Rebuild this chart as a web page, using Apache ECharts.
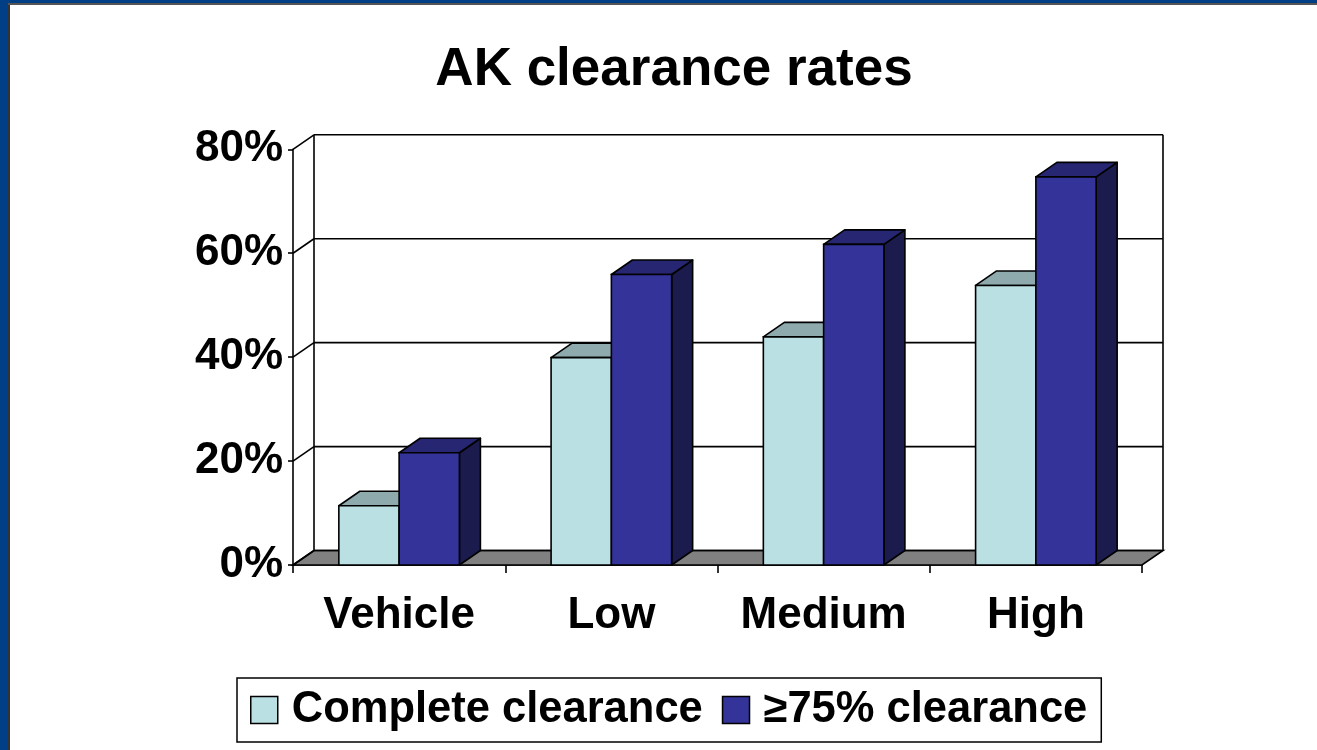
<!DOCTYPE html>
<html>
<head>
<meta charset="utf-8">
<script src="https://cdn.jsdelivr.net/npm/echarts@6/dist/echarts.min.js"></script>
<style>
html,body{margin:0;padding:0;background:#fff;}
#chart{width:1317px;height:750px;}
</style>
</head>
<body>
<div id="chart"></div>
<script>
// ---- data ----
var categories = ['Vehicle', 'Low', 'Medium', 'High'];
var completeClearance = [11.4, 39.9, 43.9, 53.8];
var clearance75 = [21.6, 55.9, 61.7, 74.7];
var yTicks = [0, 20, 40, 60, 80];
var seriesNames = ['Complete clearance', '\u226575% clearance'];
var chartTitle = 'AK clearance rates';

// ---- style constants ----
var DX = 21, DY = -14.5;
var FONT = '"Liberation Sans", Arial, sans-serif';
var LINE = '#000';
var LW = 1.6;
var faces = [
  {front: '#bbe0e3', top: '#8eaaad', side: '#6f8a8c'},
  {front: '#333399', top: '#262673', side: '#1b1b4d'}
];

var chart = echarts.init(document.getElementById('chart'), null, {renderer: 'canvas'});

function wallsRender(params, api) {
  var cs = params.coordSys;
  var x0 = cs.x, x1 = cs.x + cs.width;
  var y0 = api.coord([0, yTicks[0]])[1];
  var yTop = api.coord([0, yTicks[yTicks.length - 1]])[1];
  var children = [];
  children.push({
    type: 'polygon',
    shape: {points: [[x0, y0], [x1, y0], [x1 + DX, y0 + DY], [x0 + DX, y0 + DY]]},
    style: {fill: '#808080', stroke: LINE, lineWidth: LW}
  });
  yTicks.forEach(function (v) {
    var y = api.coord([0, v])[1];
    children.push({type: 'line', shape: {x1: x0 + DX, y1: y + DY, x2: x1 + DX, y2: y + DY},
      style: {stroke: LINE, lineWidth: LW}});
    children.push({type: 'line', shape: {x1: x0, y1: y, x2: x0 + DX, y2: y + DY},
      style: {stroke: LINE, lineWidth: LW}});
  });
  children.push({type: 'line', shape: {x1: x0 + DX, y1: yTop + DY, x2: x0 + DX, y2: y0 + DY},
    style: {stroke: LINE, lineWidth: LW}});
  children.push({type: 'line', shape: {x1: x1 + DX, y1: yTop + DY, x2: x1 + DX, y2: y0 + DY},
    style: {stroke: LINE, lineWidth: LW}});
  return {type: 'group', children: children};
}

function makeBarRender(sIdx) {
  return function (params, api) {
    var idx = api.value(0);
    var val = api.value(1);
    var top = api.coord([idx, val]);
    var base = api.coord([idx, 0]);
    var band = api.size([1, 0])[0];
    var bw = band * 0.284;
    var cx = top[0];
    var left = sIdx === 0 ? cx - bw : cx;
    var right = left + bw;
    var yt = top[1], yb = base[1];
    var f = faces[sIdx];
    return {
      type: 'group',
      children: [
        {type: 'polygon', shape: {points: [[right, yb], [right + DX, yb + DY], [right + DX, yt + DY], [right, yt]]},
          style: {fill: f.side, stroke: LINE, lineWidth: LW, lineJoin: 'round'}},
        {type: 'polygon', shape: {points: [[left, yt], [right, yt], [right + DX, yt + DY], [left + DX, yt + DY]]},
          style: {fill: f.top, stroke: LINE, lineWidth: LW, lineJoin: 'round'}},
        {type: 'rect', shape: {x: left, y: yt, width: bw, height: yb - yt},
          style: {fill: f.front, stroke: LINE, lineWidth: LW}}
      ]
    };
  };
}

function toData(arr) {
  return arr.map(function (v, i) { return [i, v]; });
}

var option = {
  backgroundColor: '#fff',
  animation: false,
  legend: {
    left: 237,
    top: 678,
    orient: 'horizontal',
    backgroundColor: '#fff',
    borderColor: '#000',
    borderWidth: 1.5,
    borderRadius: 0,
    padding: [8, 14, 8, 13],
    itemWidth: 27,
    itemHeight: 27,
    itemGap: 19,
    icon: 'rect',
    textStyle: {fontFamily: FONT, fontSize: 43.5, fontWeight: 'bold', color: '#000', lineHeight: 48, padding: [0, 0, 0, 9]},
    data: [
      {name: seriesNames[0], icon: 'rect', itemStyle: {color: faces[0].front, borderColor: '#000', borderWidth: 1.5}},
      {name: seriesNames[1], icon: 'rect', itemStyle: {color: faces[1].front, borderColor: '#000', borderWidth: 1.5}}
    ]
  },
  grid: {left: 293, right: 175, top: 149.3, bottom: 185, containLabel: false},
  xAxis: {
    type: 'category',
    data: categories,
    axisLine: {show: true, lineStyle: {color: LINE, width: LW}},
    axisTick: {show: true, length: 8, interval: 0, lineStyle: {color: LINE, width: LW}},
    axisLabel: {fontFamily: FONT, fontSize: 44, fontWeight: 'bold', color: '#000', margin: 29, interval: 0},
    splitLine: {show: false}
  },
  yAxis: {
    type: 'value',
    min: 0, max: 80, interval: 20,
    axisLine: {show: true, lineStyle: {color: LINE, width: LW}},
    axisTick: {show: true, length: 5, lineStyle: {color: LINE, width: LW}},
    axisLabel: {fontFamily: FONT, fontSize: 44, fontWeight: 'bold', color: '#000', margin: 10,
      formatter: '{value}%'},
    splitLine: {show: false}
  },
  graphic: [
    {type: 'rect', shape: {x: 0, y: 0, width: 8, height: 750}, style: {fill: '#003e86'}, z: 100},
    {type: 'rect', shape: {x: 0, y: 0, width: 1317, height: 3}, style: {fill: '#003e86'}, z: 100},
    {type: 'rect', shape: {x: 8, y: 3, width: 2, height: 747}, style: {fill: '#333'}, z: 100},
    {type: 'rect', shape: {x: 8, y: 3, width: 1309, height: 2}, style: {fill: '#555'}, z: 100},
    {
      type: 'text', x: 674, y: 70, z: 100,
      style: {text: chartTitle, fontFamily: FONT, fontSize: 53, fontWeight: 'bold', fill: '#000',
        align: 'center', verticalAlign: 'middle'}
    }
  ],
  series: [
    {
      name: 'walls',
      type: 'custom',
      renderItem: wallsRender,
      data: [[0, 0]],
      silent: true,
      z: 1
    },
    {
      name: seriesNames[0],
      type: 'custom',
      renderItem: makeBarRender(0),
      itemStyle: {color: faces[0].front},
      encode: {x: 0, y: 1},
      data: toData(completeClearance),
      z: 3
    },
    {
      name: seriesNames[1],
      type: 'custom',
      renderItem: makeBarRender(1),
      itemStyle: {color: faces[1].front},
      encode: {x: 0, y: 1},
      data: toData(clearance75),
      z: 3
    }
  ]
};
chart.setOption(option);
</script>
</body>
</html>
